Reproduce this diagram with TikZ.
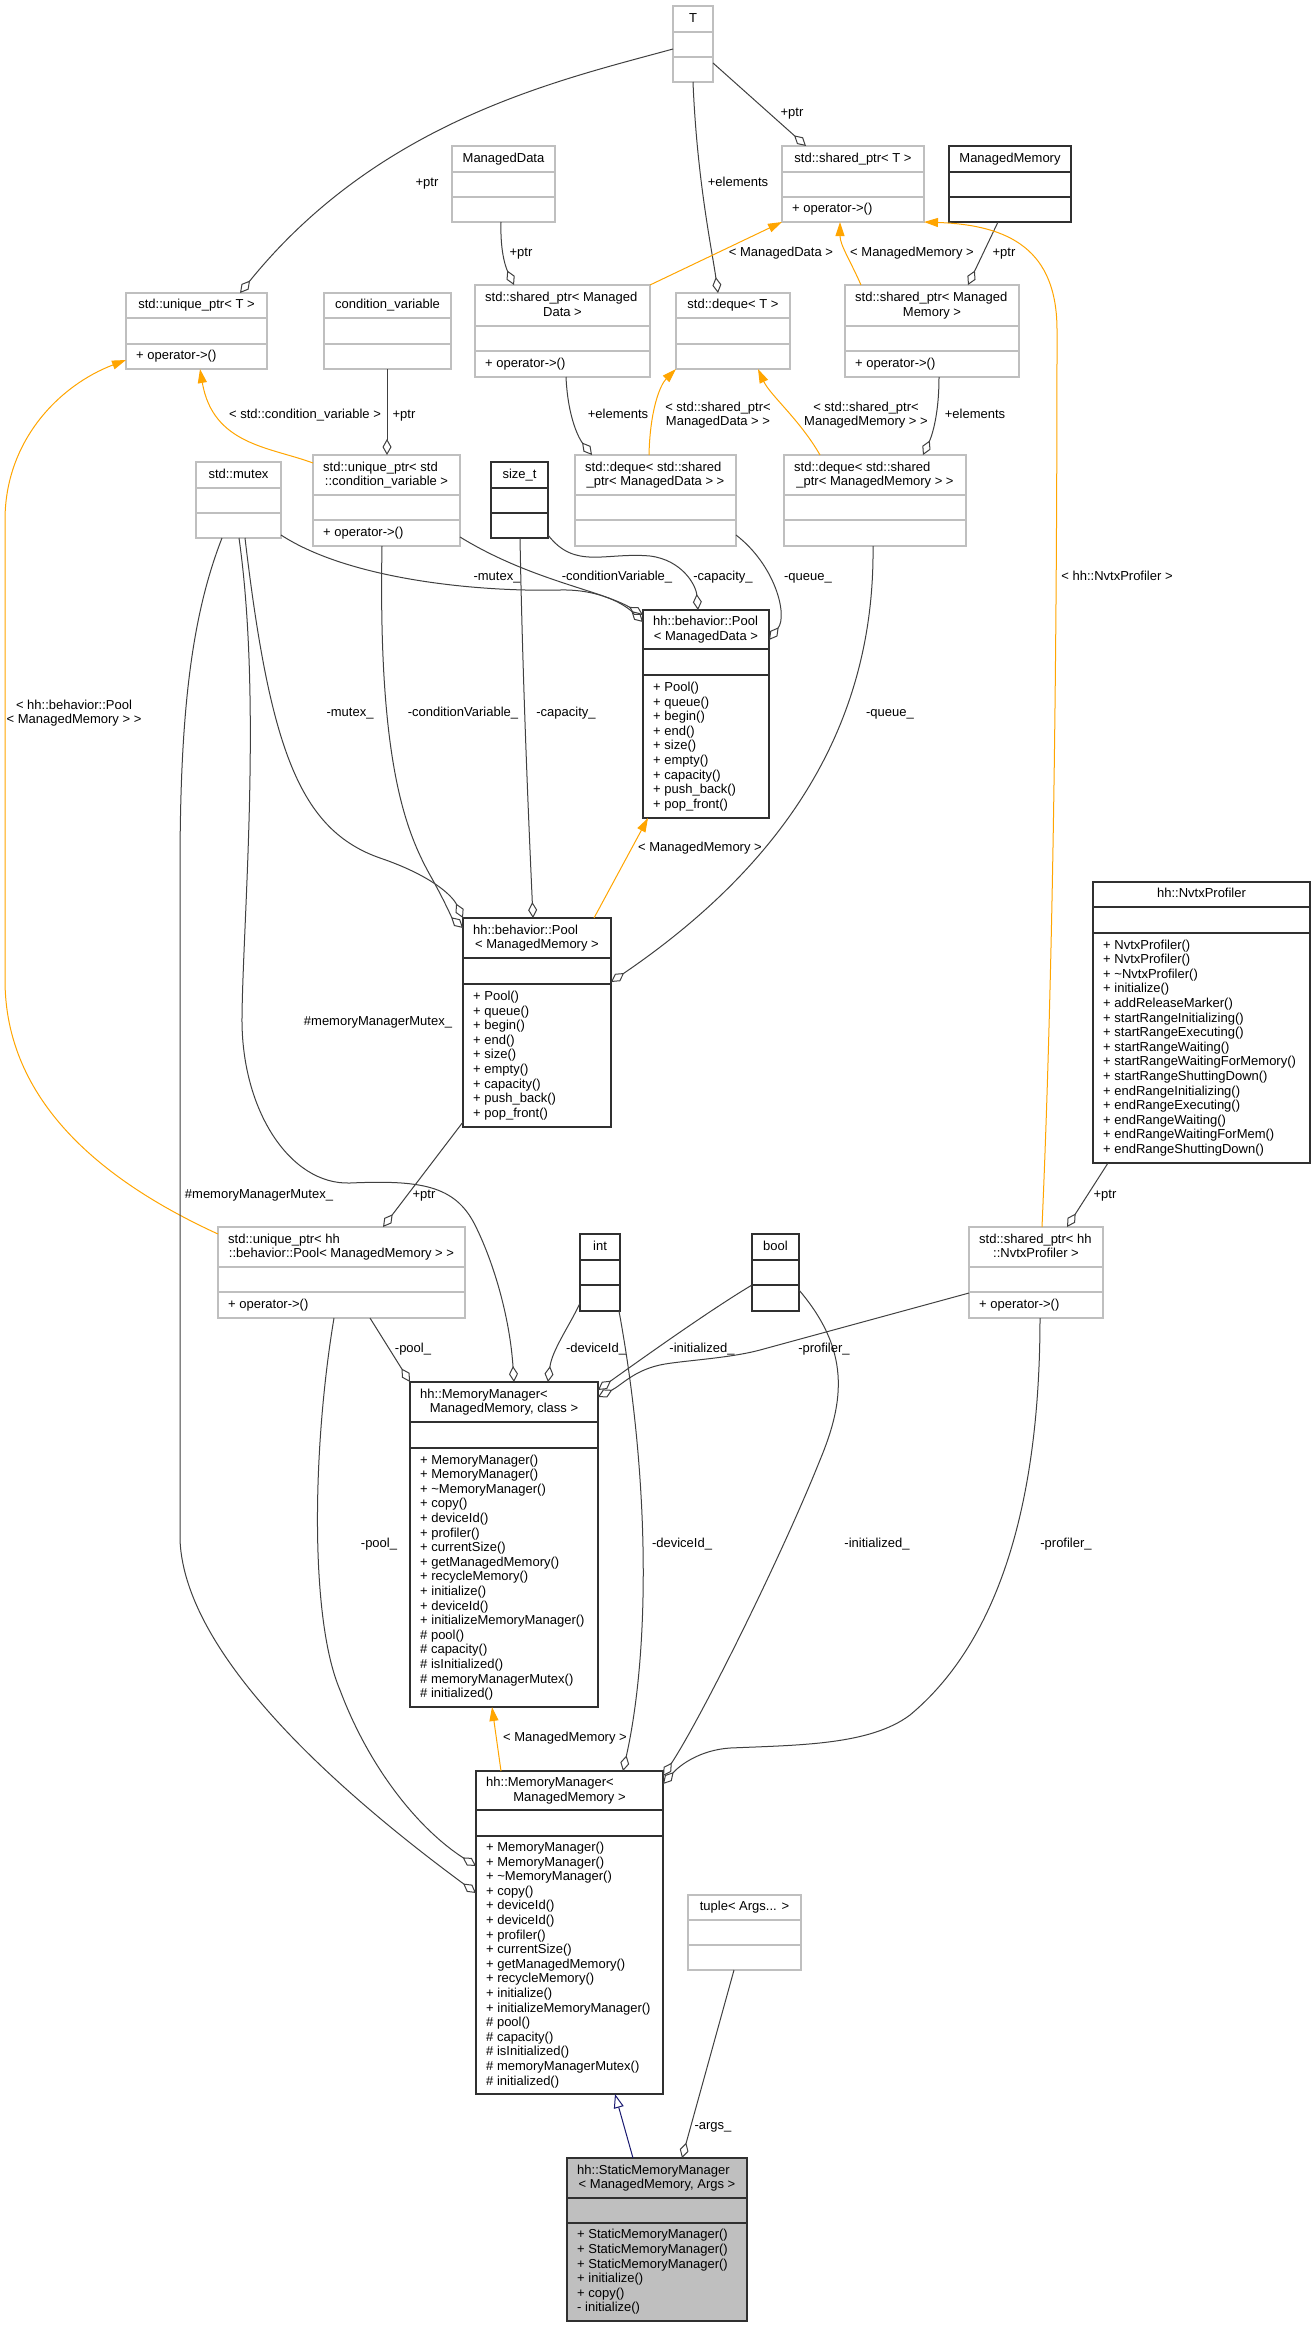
\documentclass[tikz,border=0pt]{standalone}
\usepackage{fontspec}
\setmainfont{Liberation Sans}
\usetikzlibrary{arrows.meta}
\definecolor{boxgrey}{HTML}{BFBFBF}
\definecolor{boxblack}{HTML}{303030}
\definecolor{edgegrey}{HTML}{404040}
\definecolor{tmplorange}{HTML}{FFA500}
\definecolor{inhblue}{HTML}{191970}
\definecolor{smmfill}{HTML}{BFBFBF}
\newcommand\fs{\fontsize{13}{14.6}\selectfont}
\newcommand\stt{\rule[-2.8pt]{0pt}{12.3pt}}
\newcommand\umlbox[8]{%
  \node[#2, anchor=north west, minimum width={(#5)-(#3)}, minimum height={(#6)-(#4)}] (#1) at (#3,-#4) {};
  \draw[#2 line] (#1.west |- 0,-#7) -- (#1.east |- 0,-#7);
  \draw[#2 line] (#1.west |- 0,-#8) -- (#1.east |- 0,-#8);
}
\tikzset{
  gbox/.style={draw=boxgrey, fill=white, line width=1.5pt, inner sep=0pt, outer sep=0pt},
  gbox line/.style={draw=boxgrey, line width=1.5pt},
  dbox/.style={draw=boxblack, fill=white, line width=1.5pt, inner sep=0pt, outer sep=0pt},
  dbox line/.style={draw=boxblack, line width=1.5pt},
  sbox/.style={draw=boxblack, fill=smmfill, line width=1.5pt, inner sep=0pt, outer sep=0pt},
  sbox line/.style={draw=boxblack, line width=1.5pt},
  txt/.style={font=\fs, inner sep=0pt, text height=9.5pt, text depth=2.8pt},
  mtxt/.style={font=\fs, inner sep=0pt, align=left, execute at begin node=\stt, execute at end node=\stt},
  ctxt/.style={mtxt, align=center},
  assoc/.style={draw=edgegrey, line width=1pt, -{Diamond[open, length=16pt, width=9pt, line width=1pt]}},
  tmpl/.style={draw=tmplorange, line width=1pt, -{Triangle[length=14pt, width=9pt]}},
  inh/.style={draw=inhblue, line width=1pt, -{Triangle[open, length=14pt, width=10pt, line width=1pt]}},
}
\begin{document}
\begin{tikzpicture}[x=1pt,y=1pt]
\fill[white] (0,0) rectangle (1311,-2331);
\useasboundingbox (0,0) rectangle (1311,-2331);
% ---------- boxes ----------
\umlbox{T}{gbox}{673}{6}{713}{82}{32}{57}
\umlbox{sptrT}{gbox}{782}{146}{924}{222}{172}{197}
\umlbox{MM}{dbox}{949}{146}{1071}{222}{172}{197}
\umlbox{MD}{gbox}{452}{146}{555}{222}{172}{197}
\umlbox{uptrT}{gbox}{126}{293}{267}{369}{318}{344}
\umlbox{cv}{gbox}{324}{293}{451}{369}{318}{344}
\umlbox{sptrMD}{gbox}{475}{285}{650}{377}{326}{351}
\umlbox{dequeT}{gbox}{676}{293}{790}{369}{318}{344}
\umlbox{sptrMM}{gbox}{845}{285}{1019}{377}{326}{351}
\umlbox{mutex}{gbox}{196}{462}{281}{538}{488}{513}
\umlbox{uptrCV}{gbox}{313}{455}{460}{546}{495}{520}
\umlbox{sizet}{dbox}{491}{462}{548}{538}{488}{513}
\umlbox{dequeMD}{gbox}{575}{455}{736}{546}{495}{520}
\umlbox{dequeMM}{gbox}{784}{455}{966}{546}{495}{520}
\umlbox{poolMD}{dbox}{643}{610}{769}{818}{649}{675}
\umlbox{poolMM}{dbox}{463}{918}{611}{1127}{958}{984}
\umlbox{nvtx}{dbox}{1093}{882}{1310}{1163}{907}{933}
\umlbox{uptrPool}{gbox}{218}{1227}{465}{1318}{1267}{1292}
\umlbox{int}{dbox}{580}{1234}{620}{1311}{1260}{1285}
\umlbox{bool}{dbox}{752}{1234}{799}{1311}{1260}{1285}
\umlbox{sptrNvtx}{gbox}{969}{1227}{1103}{1318}{1267}{1292}
\umlbox{mmc}{dbox}{410}{1382}{598}{1707}{1422}{1448}
\umlbox{mm}{dbox}{476}{1771}{663}{2094}{1810}{1836}
\umlbox{tuple}{gbox}{688}{1895}{801}{1970}{1920}{1945}
\umlbox{smm}{sbox}{567}{2158}{747}{2321}{2198}{2223}
% ---------- box texts ----------
\node[txt] (T-h) at (693,-19) {T};
\node[txt] (sptrT-h) at (853,-159) {std::shared\_ptr< T >};
\node[txt, anchor=west] (sptrT-m) at (792,-209.5) {+ operator->()};
\node[txt] (MM-h) at (1010,-159) {ManagedMemory};
\node[txt] (MD-h) at (503.5,-159) {ManagedData};
\node[txt] (uptrT-h) at (196.5,-305.5) {std::unique\_ptr< T >};
\node[txt, anchor=west] (uptrT-m) at (136,-356.5) {+ operator->()};
\node[txt] (cv-h) at (387.5,-305.5) {condition\_variable};
\node[txt, anchor=west] (sptrMD-h1) at (485,-298.2) {std::shared\_ptr< Managed};
\node[txt] (sptrMD-h2) at (562.5,-312.8) {Data >};
\node[txt, anchor=west] (sptrMD-m) at (485,-364) {+ operator->()};
\node[txt] (dequeT-h) at (733,-305.5) {std::deque< T >};
\node[txt, anchor=west] (sptrMM-h1) at (855,-298.2) {std::shared\_ptr< Managed};
\node[txt] (sptrMM-h2) at (932,-312.8) {Memory >};
\node[txt, anchor=west] (sptrMM-m) at (855,-364) {+ operator->()};
\node[txt] (mutex-h) at (238.5,-475) {std::mutex};
\node[txt, anchor=west] (uptrCV-h1) at (323,-467.7) {std::unique\_ptr< std};
\node[txt] (uptrCV-h2) at (386.5,-482.3) {::condition\_variable >};
\node[txt, anchor=west] (uptrCV-m) at (323,-533) {+ operator->()};
\node[txt] (sizet-h) at (519.5,-475) {size\_t};
\node[txt, anchor=west] (dequeMD-h1) at (585,-467.7) {std::deque< std::shared};
\node[txt] (dequeMD-h2) at (655.5,-482.3) {\_ptr< ManagedData > >};
\node[txt, anchor=west] (dequeMM-h1) at (794,-467.7) {std::deque< std::shared};
\node[txt] (dequeMM-h2) at (875,-482.3) {\_ptr< ManagedMemory > >};
\node[txt, anchor=west] (poolMD-h1) at (653,-622.2) {hh::behavior::Pool};
\node[txt] (poolMD-h2) at (706,-636.8) {< ManagedData >};
\node[mtxt, anchor=west] (poolMD-m) at (653,-746.5) {+ Pool()\\+ queue()\\+ begin()\\+ end()\\+ size()\\+ empty()\\+ capacity()\\+ push\_back()\\+ pop\_front()};
\node[txt, anchor=west] (poolMM-h1) at (473,-930.7) {hh::behavior::Pool};
\node[txt] (poolMM-h2) at (537,-945.3) {< ManagedMemory >};
\node[mtxt, anchor=west] (poolMM-m) at (473,-1055.5) {+ Pool()\\+ queue()\\+ begin()\\+ end()\\+ size()\\+ empty()\\+ capacity()\\+ push\_back()\\+ pop\_front()};
\node[txt] (nvtx-h) at (1201.5,-894.5) {hh::NvtxProfiler};
\node[mtxt, anchor=west] (nvtx-m) at (1103,-1048) {+ NvtxProfiler()\\+ NvtxProfiler()\\+ \textasciitilde NvtxProfiler()\\+ initialize()\\+ addReleaseMarker()\\+ startRangeInitializing()\\+ startRangeExecuting()\\+ startRangeWaiting()\\+ startRangeWaitingForMemory()\\+ startRangeShuttingDown()\\+ endRangeInitializing()\\+ endRangeExecuting()\\+ endRangeWaiting()\\+ endRangeWaitingForMem()\\+ endRangeShuttingDown()};
\node[txt, anchor=west] (uptrPool-h1) at (228,-1239.7) {std::unique\_ptr< hh};
\node[txt] (uptrPool-h2) at (341.5,-1254.3) {::behavior::Pool< ManagedMemory > >};
\node[txt, anchor=west] (uptrPool-m) at (228,-1305) {+ operator->()};
\node[txt] (int-h) at (600,-1247) {int};
\node[txt] (bool-h) at (775.5,-1247) {bool};
\node[txt, anchor=west] (sptrNvtx-h1) at (979,-1239.7) {std::shared\_ptr< hh};
\node[txt] (sptrNvtx-h2) at (1036,-1254.3) {::NvtxProfiler >};
\node[txt, anchor=west] (sptrNvtx-m) at (979,-1305) {+ operator->()};
\node[txt, anchor=west] (mmc-h1) at (420,-1394.7) {hh::MemoryManager<};
\node[txt] (mmc-h2) at (504,-1409.3) {ManagedMemory, class >};
\node[mtxt, anchor=west] (mmc-m) at (420,-1577.5) {+ MemoryManager()\\+ MemoryManager()\\+ \textasciitilde MemoryManager()\\+ copy()\\+ deviceId()\\+ profiler()\\+ currentSize()\\+ getManagedMemory()\\+ recycleMemory()\\+ initialize()\\+ deviceId()\\+ initializeMemoryManager()\\\# pool()\\\# capacity()\\\# isInitialized()\\\# memoryManagerMutex()\\\# initialized()};
\node[txt, anchor=west] (mm-h1) at (486,-1783.2) {hh::MemoryManager<};
\node[txt] (mm-h2) at (569.5,-1797.8) {ManagedMemory >};
\node[mtxt, anchor=west] (mm-m) at (486,-1965) {+ MemoryManager()\\+ MemoryManager()\\+ \textasciitilde MemoryManager()\\+ copy()\\+ deviceId()\\+ deviceId()\\+ profiler()\\+ currentSize()\\+ getManagedMemory()\\+ recycleMemory()\\+ initialize()\\+ initializeMemoryManager()\\\# pool()\\\# capacity()\\\# isInitialized()\\\# memoryManagerMutex()\\\# initialized()};
\node[txt] (tuple-h) at (744.5,-1907.5) {tuple< Args... >};
\node[txt, anchor=west] (smm-h1) at (577,-2170.7) {hh::StaticMemoryManager};
\node[txt] (smm-h2) at (657,-2185.3) {< ManagedMemory, Args >};
\node[mtxt, anchor=west] (smm-m) at (577,-2272) {+ StaticMemoryManager()\\+ StaticMemoryManager()\\+ StaticMemoryManager()\\+ initialize()\\+ copy()\\- initialize()};
% ---------- edges ----------
\draw[assoc] (T.west |- 0,-49) .. controls (560,-80) and (380,-120) .. (uptrT.north -| 240,0);
\node[txt] (lbl1) at (427,-183) {+ptr};
\draw[assoc] (T.east |- 0,-63) -- (sptrT.north -| 806,0);
\node[txt] (lbl2) at (792,-113) {+ptr};
\draw[assoc] (T.south -| 693,0) .. controls (697,-180) and (712,-250) .. (dequeT.north -| 718,0);
\node[txt] (lbl3) at (738,-183) {+elements};
\draw[assoc] (MD.south -| 501,0) .. controls (500,-255) and (507,-270) .. (sptrMD.north -| 514,0);
\node[txt] (lbl4) at (521,-253) {+ptr};
\draw[assoc] (MM.south -| 998,0) -- (sptrMM.north -| 968,0);
\node[txt] (lbl5) at (1004,-253) {+ptr};
\draw[tmpl] (sptrMD.north -| 650,0) -- (sptrT.south west);
\node[txt] (lbl6) at (781,-253) {< ManagedData >};
\draw[tmpl] (sptrMM.north -| 861,0) .. controls (850,-260) and (840,-245) .. (sptrT.south -| 840,0);
\node[txt] (lbl7) at (912,-253) {< ManagedMemory >};
\draw[tmpl] (sptrNvtx.north -| 1042,0) .. controls (1052,-1000) and (1057,-700) .. (1057,-330) .. controls (1057,-250) and (1010,-225) .. (sptrT.south east);
\node[txt] (lbl8) at (1117,-577) {< hh::NvtxProfiler >};
\draw[tmpl] (dequeMD.north -| 649,0) .. controls (650,-410) and (660,-385) .. (dequeT.south west);
\node[ctxt] (lbl9) at (718,-415) {< std::shared\_ptr<\\ManagedData > >};
\draw[tmpl] (dequeMM.north -| 820,0) .. controls (800,-420) and (770,-395) .. (dequeT.south -| 758,0);
\node[ctxt] (lbl10) at (866,-415) {< std::shared\_ptr<\\ManagedMemory > >};
\draw[assoc] (sptrMD.south -| 566,0) .. controls (568,-420) and (580,-440) .. (dequeMD.north -| 592,0);
\node[txt] (lbl11) at (618,-415) {+elements};
\draw[assoc] (sptrMM.south -| 939,0) .. controls (939,-420) and (930,-440) .. (dequeMM.north -| 923,0);
\node[txt] (lbl12) at (975,-415) {+elements};
\draw[tmpl] (uptrCV.west |- 0,-463) .. controls (270,-447) and (213,-445) .. (uptrT.south -| 200,0);
\node[txt] (lbl13) at (305,-415) {< std::condition\_variable >};
\draw[assoc] (cv.south -| 387,0) -- (uptrCV.north -| 387,0);
\node[txt] (lbl14) at (404,-415) {+ptr};
\draw[tmpl] (uptrPool.west |- 0,-1234) .. controls (100,-1180) and (5,-1100) .. (5,-980) -- (5,-520) .. controls (5,-440) and (60,-385) .. (uptrT.west |- 0,-360);
\node[ctxt] (lbl15) at (74,-713) {< hh::behavior::Pool\\< ManagedMemory > >};
\draw[assoc] (mutex.east |- 0,-535) .. controls (350,-580) and (480,-592) .. (560,-590) .. controls (600,-589) and (625,-605) .. (poolMD.west |- 0,-622);
\node[txt] (lbl16) at (497,-577) {-mutex\_};
\draw[assoc] (uptrCV.east |- 0,-537) .. controls (530,-580) and (600,-590) .. (poolMD.west |- 0,-615);
\node[txt] (lbl17) at (617,-577) {-conditionVariable\_};
\draw[assoc] (sizet.east |- 0,-535) .. controls (575,-570) and (605,-552) .. (650,-556) .. controls (682,-560) and (696,-585) .. (poolMD.north -| 698,0);
\node[txt] (lbl18) at (723,-577) {-capacity\_};
\draw[assoc] (dequeMD.east |- 0,-535) .. controls (775,-565) and (788,-615) .. (poolMD.east |- 0,-640);
\node[txt] (lbl19) at (808,-577) {-queue\_};
\draw[assoc] (mutex.south -| 245,0) .. controls (270,-750) and (300,-830) .. (380,-858) .. controls (430,-875) and (452,-895) .. (poolMM.north west);
\node[txt] (lbl20) at (350,-713) {-mutex\_};
\draw[assoc] (uptrCV.south -| 382,0) .. controls (378,-760) and (405,-830) .. (430,-875) .. controls (443,-898) and (452,-918) .. (poolMM.west |- 0,-928);
\node[txt] (lbl21) at (463,-713) {-conditionVariable\_};
\draw[assoc] (sizet.south -| 520,0) .. controls (523,-700) and (530,-850) .. (poolMM.north -| 533,0);
\node[txt] (lbl22) at (566,-713) {-capacity\_};
\draw[assoc] (dequeMM.south -| 873,0) .. controls (875,-720) and (790,-860) .. (poolMM.east |- 0,-982);
\node[txt] (lbl23) at (890,-713) {-queue\_};
\draw[tmpl] (poolMM.north -| 594,0) -- (poolMD.south -| 648,0);
\node[txt] (lbl24) at (700,-848) {< ManagedMemory >};
\draw[assoc] (poolMM.west |- 0,-1122) -- (uptrPool.north -| 383,0);
\node[txt] (lbl25) at (424,-1195) {+ptr};
\draw[assoc] (mutex.south -| 239,0) .. controls (262,-700) and (243,-920) .. (242,-1017) .. controls (241,-1110) and (290,-1185) .. (350,-1183) .. controls (420,-1180) and (455,-1185) .. (475,-1225) .. controls (495,-1265) and (510,-1320) .. (mmc.north -| 514,0);
\node[txt] (lbl26) at (378,-1022) {\#memoryManagerMutex\_};
\draw[assoc] (mutex.south -| 222,0) .. controls (190,-620) and (180,-720) .. (180,-870) -- (180,-1540) .. controls (185,-1660) and (350,-1800) .. (mm.west |- 0,-1893);
\node[txt] (lbl27) at (259,-1195) {\#memoryManagerMutex\_};
\draw[assoc] (uptrPool.south -| 370,0) -- (mmc.north west);
\node[txt] (lbl28) at (413,-1349) {-pool\_};
\draw[assoc] (uptrPool.south -| 334,0) .. controls (312,-1450) and (310,-1620) .. (340,-1690) .. controls (370,-1770) and (420,-1830) .. (mm.west |- 0,-1866);
\node[txt] (lbl29) at (379,-1544) {-pool\_};
\draw[assoc] (int.west |- 0,-1303) .. controls (570,-1325) and (552,-1350) .. (mmc.north -| 548,0);
\node[txt] (lbl30) at (596,-1349) {-deviceId\_};
\draw[assoc] (int.south -| 619,0) .. controls (650,-1480) and (650,-1650) .. (mm.north -| 623,0);
\node[txt] (lbl31) at (682,-1544) {-deviceId\_};
\draw[assoc] (bool.west |- 0,-1285) .. controls (710,-1310) and (640,-1360) .. (mmc.east |- 0,-1390);
\node[txt] (lbl32) at (702,-1349) {-initialized\_};
\draw[assoc] (bool.east |- 0,-1290) .. controls (850,-1350) and (845,-1400) .. (820,-1460) .. controls (780,-1560) and (700,-1720) .. (mm.east |- 0,-1776);
\node[txt] (lbl33) at (877,-1544) {-initialized\_};
\draw[assoc] (sptrNvtx.west |- 0,-1293) -- (760,-1350) .. controls (730,-1358) and (690,-1360) .. (665,-1364) .. controls (635,-1369) and (622,-1385) .. (mmc.east |- 0,-1397);
\node[txt] (lbl34) at (824,-1349) {-profiler\_};
\draw[assoc] (sptrNvtx.south -| 1040,0) .. controls (1040,-1500) and (1000,-1640) .. (910,-1715) .. controls (870,-1745) and (800,-1745) .. (730,-1748) .. controls (700,-1750) and (680,-1765) .. (mm.east |- 0,-1784);
\node[txt] (lbl35) at (1066,-1544) {-profiler\_};
\draw[assoc] (nvtx.south -| 1108,0) -- (sptrNvtx.north -| 1067,0);
\node[txt] (lbl36) at (1105,-1195) {+ptr};
\draw[tmpl] (mm.north -| 501,0) -- (mmc.south -| 492,0);
\node[txt] (lbl37) at (565,-1738) {< ManagedMemory >};
\draw[inh] (smm.north -| 633,0) -- (mm.south -| 615,0);
\draw[assoc] (tuple.south -| 734,0) -- (smm.north -| 682,0);
\node[txt] (lbl39) at (713,-2126) {-args\_};
\end{tikzpicture}
\end{document}
